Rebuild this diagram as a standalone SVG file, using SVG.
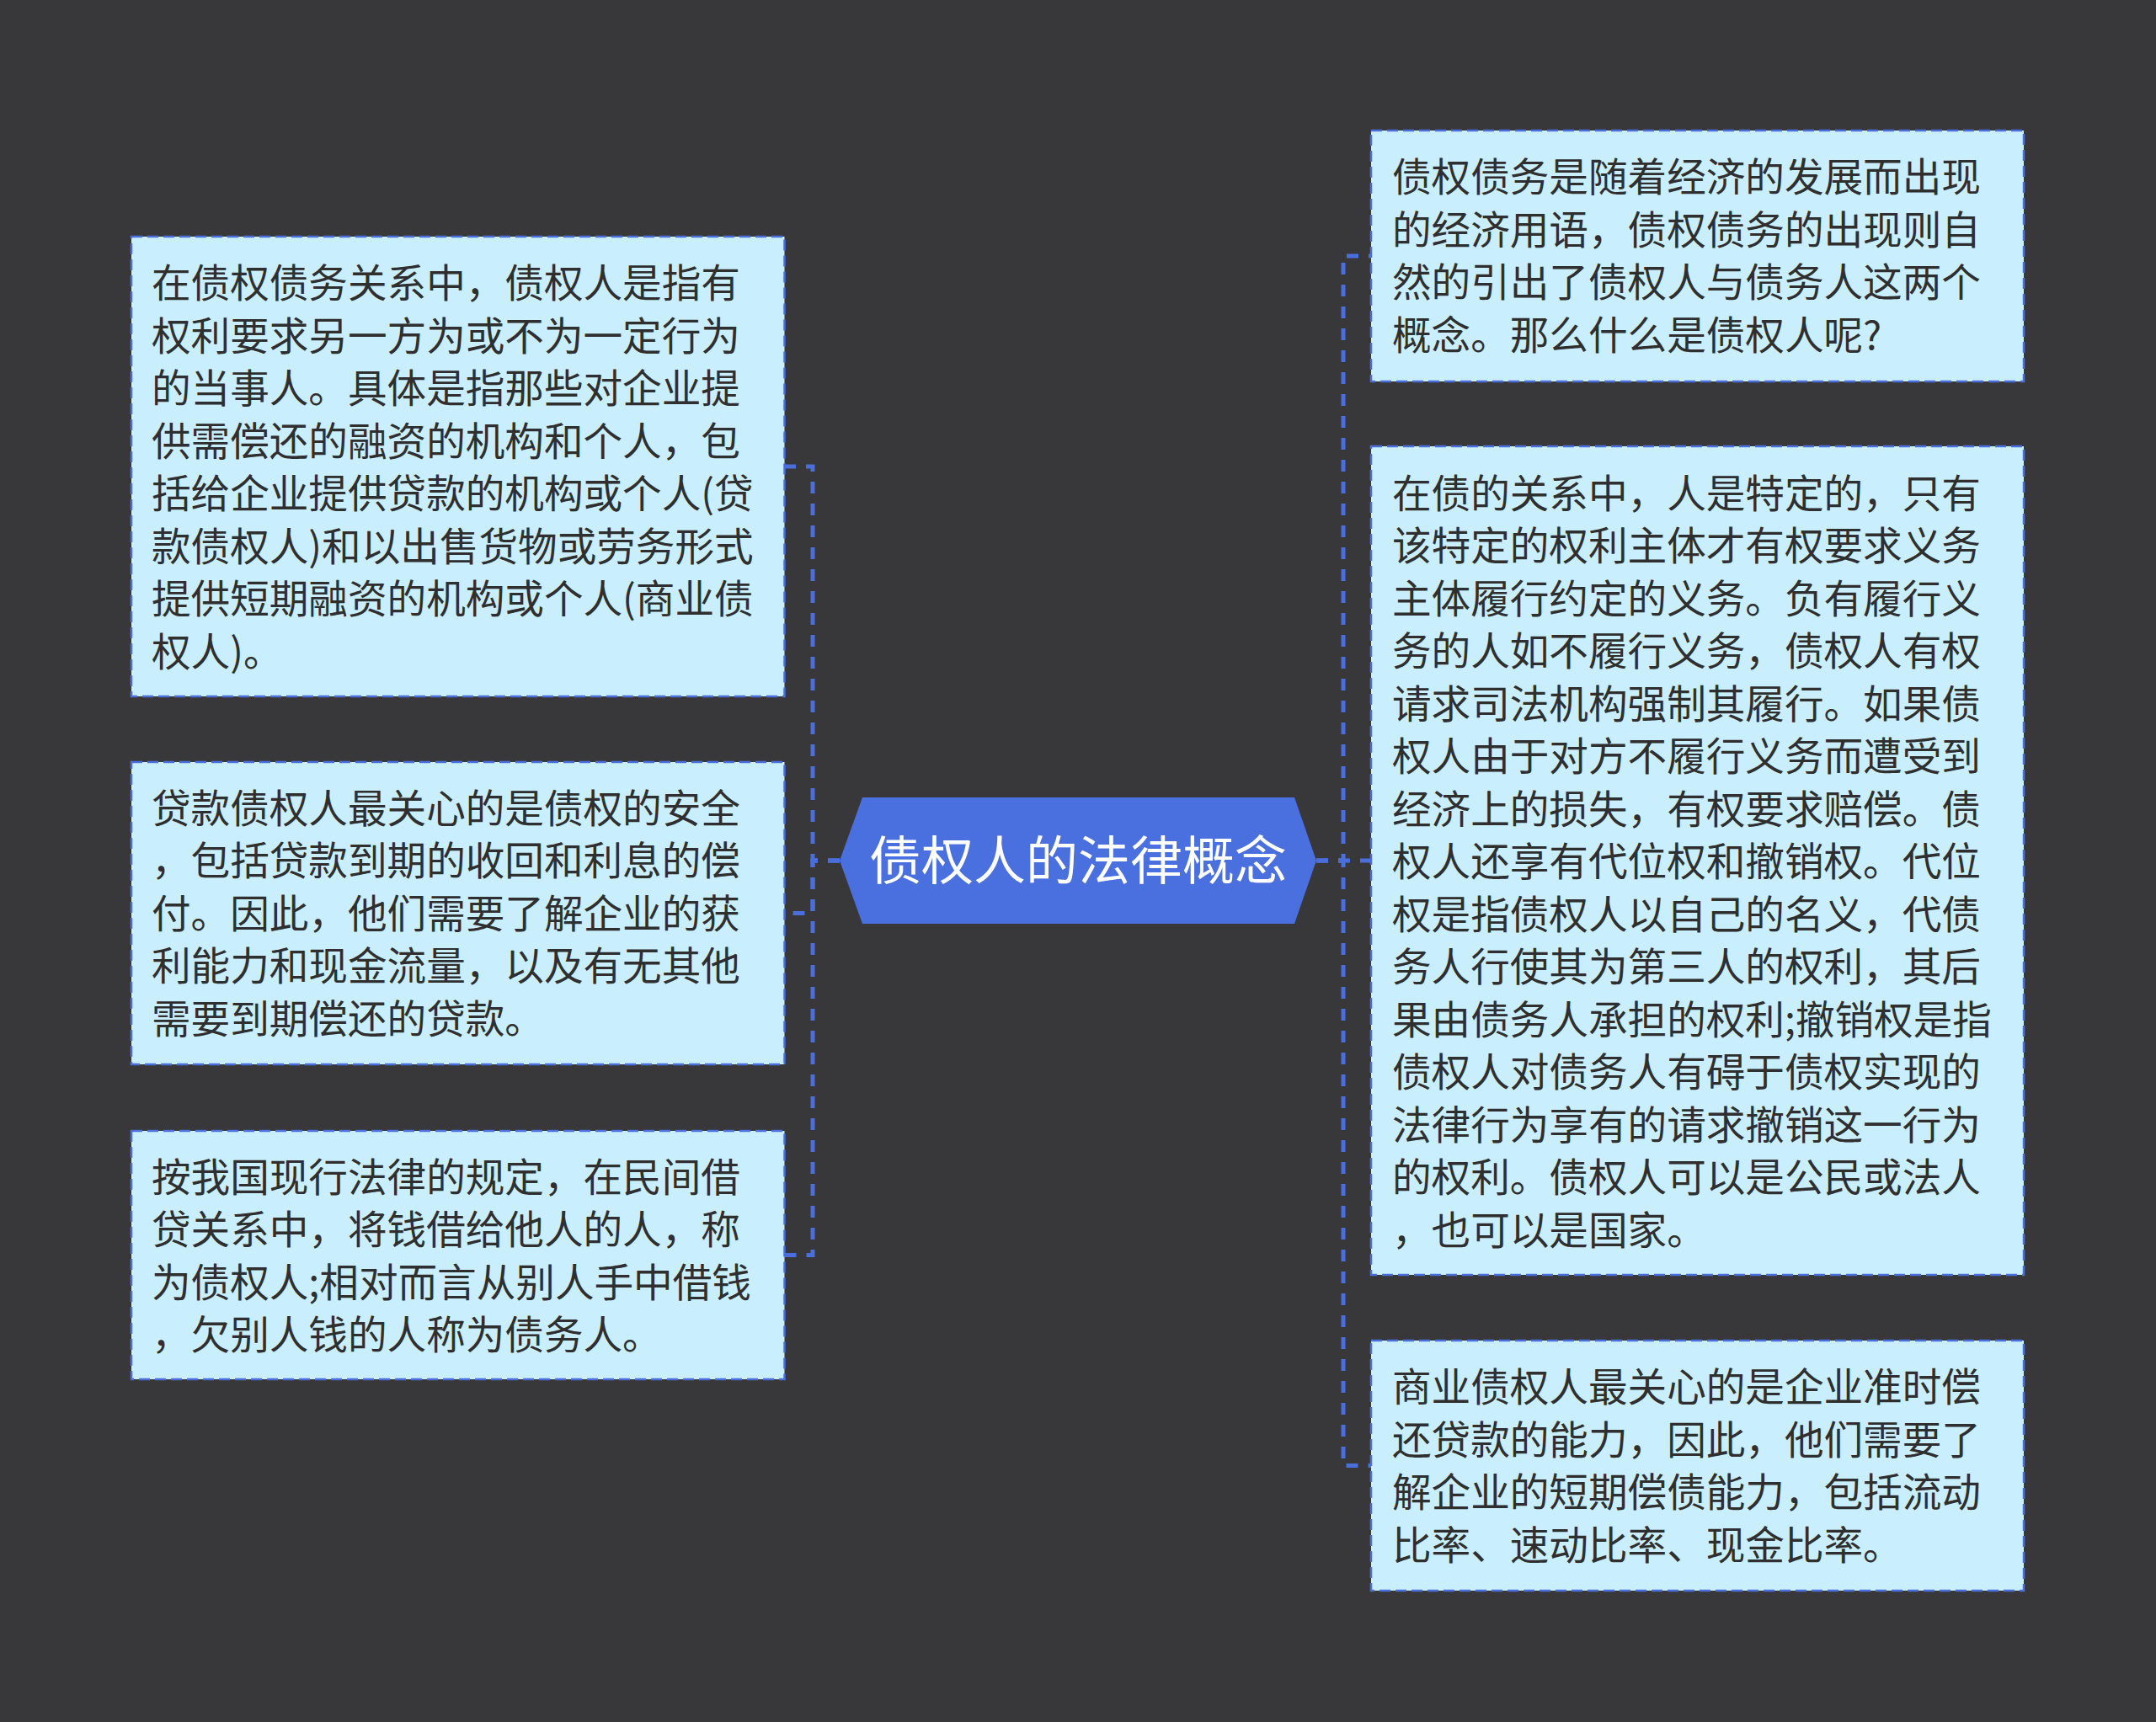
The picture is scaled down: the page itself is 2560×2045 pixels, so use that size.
<svg xmlns="http://www.w3.org/2000/svg" width="2560" height="2045" viewBox="0 0 2560 2045">
<style>
.bg{fill:#38373a}
.conn{fill:none;stroke:#4a6fdc;stroke-width:5;stroke-dasharray:14 12}
.box{fill:#c9eefd;stroke:#4a6fdc;stroke-width:2.5;stroke-dasharray:13 6}
.t{font-family:"Noto Sans CJK SC","Noto Sans",sans-serif;font-size:46.6px;fill:#2f2f2f}
.hex{fill:#4a6fdf}
.ct{font-family:"Noto Sans CJK SC","Noto Sans",sans-serif;font-size:62px;fill:#ffffff;text-anchor:middle}
</style>
<rect class="bg" x="0" y="0" width="2560" height="2045"/>
<g id="connectors">
<path class="conn" d="M997 1022 H965 V554 H931"/>
<path class="conn" d="M997 1022 H965 V1084.5 H931"/>
<path class="conn" d="M997 1022 H965 V1490.5 H931"/>
<path class="conn" d="M1563 1022 H1595 V304 H1628"/>
<path class="conn" d="M1563 1022 H1628"/>
<path class="conn" d="M1563 1022 H1595 V1740.5 H1628"/>
</g>
<g id="center">
<polygon class="hex" points="997,1022 1024,947 1537,947 1563,1022 1537,1097 1024,1097"/>
<text class="ct" x="1280" y="1045">债权人的法律概念</text>
</g>
<g id="node-l1">
<rect class="box" x="156" y="281" width="775.5" height="546"/>
<text class="t">
<tspan x="180" y="353">在债权债务关系中，债权人是指有</tspan>
<tspan x="180" y="415.5">权利要求另一方为或不为一定行为</tspan>
<tspan x="180" y="478">的当事人。具体是指那些对企业提</tspan>
<tspan x="180" y="540.5">供需偿还的融资的机构和个人，包</tspan>
<tspan x="180" y="603">括给企业提供贷款的机构或个人(贷</tspan>
<tspan x="180" y="665.5">款债权人)和以出售货物或劳务形式</tspan>
<tspan x="180" y="728">提供短期融资的机构或个人(商业债</tspan>
<tspan x="180" y="790.5">权人)。</tspan>
</text>
</g>
<g id="node-l2">
<rect class="box" x="156" y="905" width="775.5" height="359"/>
<text class="t">
<tspan x="180" y="976.5">贷款债权人最关心的是债权的安全</tspan>
<tspan x="180" y="1039">，包括贷款到期的收回和利息的偿</tspan>
<tspan x="180" y="1101.5">付。因此，他们需要了解企业的获</tspan>
<tspan x="180" y="1164">利能力和现金流量，以及有无其他</tspan>
<tspan x="180" y="1226.5">需要到期偿还的贷款。</tspan>
</text>
</g>
<g id="node-l3">
<rect class="box" x="156" y="1343" width="775.5" height="295"/>
<text class="t">
<tspan x="180" y="1414.5">按我国现行法律的规定，在民间借</tspan>
<tspan x="180" y="1477">贷关系中，将钱借给他人的人，称</tspan>
<tspan x="180" y="1539.5">为债权人;相对而言从别人手中借钱</tspan>
<tspan x="180" y="1602">，欠别人钱的人称为债务人。</tspan>
</text>
</g>
<g id="node-r1">
<rect class="box" x="1628" y="155" width="775" height="298"/>
<text class="t">
<tspan x="1653" y="227">债权债务是随着经济的发展而出现</tspan>
<tspan x="1653" y="289.5">的经济用语，债权债务的出现则自</tspan>
<tspan x="1653" y="352">然的引出了债权人与债务人这两个</tspan>
<tspan x="1653" y="414.5">概念。那么什么是债权人呢?</tspan>
</text>
</g>
<g id="node-r2">
<rect class="box" x="1628" y="530" width="775" height="984"/>
<text class="t">
<tspan x="1653" y="602.5">在债的关系中，人是特定的，只有</tspan>
<tspan x="1653" y="665">该特定的权利主体才有权要求义务</tspan>
<tspan x="1653" y="727.5">主体履行约定的义务。负有履行义</tspan>
<tspan x="1653" y="790">务的人如不履行义务，债权人有权</tspan>
<tspan x="1653" y="852.5">请求司法机构强制其履行。如果债</tspan>
<tspan x="1653" y="915">权人由于对方不履行义务而遭受到</tspan>
<tspan x="1653" y="977.5">经济上的损失，有权要求赔偿。债</tspan>
<tspan x="1653" y="1040">权人还享有代位权和撤销权。代位</tspan>
<tspan x="1653" y="1102.5">权是指债权人以自己的名义，代债</tspan>
<tspan x="1653" y="1165">务人行使其为第三人的权利，其后</tspan>
<tspan x="1653" y="1227.5">果由债务人承担的权利;撤销权是指</tspan>
<tspan x="1653" y="1290">债权人对债务人有碍于债权实现的</tspan>
<tspan x="1653" y="1352.5">法律行为享有的请求撤销这一行为</tspan>
<tspan x="1653" y="1415">的权利。债权人可以是公民或法人</tspan>
<tspan x="1653" y="1477.5">，也可以是国家。</tspan>
</text>
</g>
<g id="node-r3">
<rect class="box" x="1628" y="1592" width="775" height="297"/>
<text class="t">
<tspan x="1653" y="1664">商业债权人最关心的是企业准时偿</tspan>
<tspan x="1653" y="1726.5">还贷款的能力，因此，他们需要了</tspan>
<tspan x="1653" y="1789">解企业的短期偿债能力，包括流动</tspan>
<tspan x="1653" y="1851.5">比率、速动比率、现金比率。</tspan>
</text>
</g>
</svg>
